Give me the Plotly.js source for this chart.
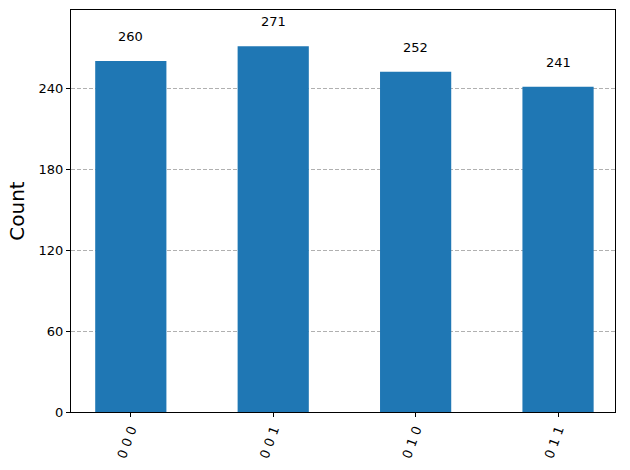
<!DOCTYPE html>
<html>
<head>
<meta charset="utf-8">
<script src="https://cdn.plot.ly/plotly-3.0.1.min.js"></script>
<style>html,body{margin:0;padding:0;background:#fff;}#chart{width:630px;height:470px;}</style>
</head>
<body>
<div id="chart"></div>
<script>
var categories = ["0 0 0", "0 0 1", "0 1 0", "0 1 1"];
var counts = [260, 271, 252, 241];
var yTicks = [0, 60, 120, 180, 240];

var font = "DejaVu Sans, sans-serif";
var trace = {
  type: "bar",
  x: categories,
  y: counts,
  width: 0.5,
  marker: {color: "#1f77b4", line: {width: 0}},
  hoverinfo: "skip"
};
var annotations = categories.map(function(c, i) {
  return {
    x: c, y: counts[i], xref: "x", yref: "y",
    text: String(counts[i]), showarrow: false,
    yanchor: "bottom", yshift: 15,
    font: {family: font, size: 13, color: "#000"}
  };
});
var layout = {
  width: 630, height: 470,
  margin: {l: 71, r: 15, t: 10, b: 58},
  paper_bgcolor: "#fff", plot_bgcolor: "#fff",
  showlegend: false,
  font: {family: font, size: 13, color: "#000"},
  xaxis: {
    type: "category",
    range: [-0.42, 3.4],
    tickangle: -70,
    ticks: "outside", ticklen: 4, tickwidth: 1, tickcolor: "#000",
    showline: true, linecolor: "#000", linewidth: 1, mirror: true,
    showgrid: false, zeroline: false,
    tickfont: {family: font, size: 13, color: "#000"}
  },
  yaxis: {
    range: [0, 297.8],
    tickvals: yTicks,
    ticktext: yTicks.map(String),
    ticks: "outside", ticklen: 4, tickwidth: 1, tickcolor: "#000",
    showline: true, linecolor: "#000", linewidth: 1, mirror: true,
    showgrid: true, gridcolor: "#b0b0b0", griddash: "4px,2px", gridwidth: 1,
    zeroline: false,
    tickfont: {family: font, size: 13, color: "#000"},
    title: {text: "Count", font: {family: font, size: 20, color: "#000"}, standoff: 8}
  },
  annotations: annotations
};
Plotly.newPlot("chart", [trace], layout, {displayModeBar: false, staticPlot: true});
</script>
</body>
</html>
